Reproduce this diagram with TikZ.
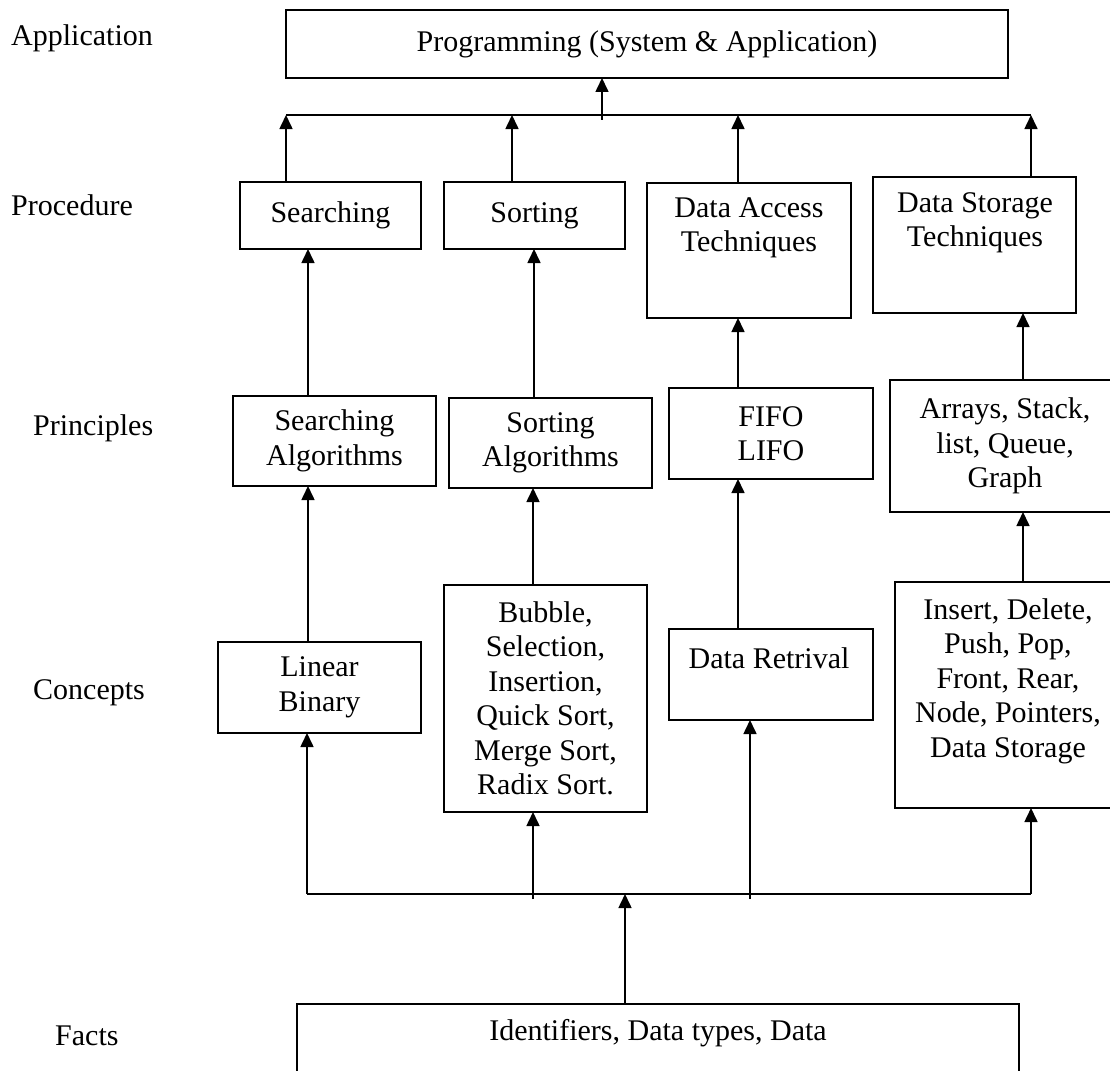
\documentclass[tikz,border=0pt]{standalone}
\usepackage{fontspec}
\setmainfont{Liberation Serif}
\usetikzlibrary{arrows.meta}
\begin{document}
\begin{tikzpicture}[x=1pt,y=-1pt,
  every node/.style={font=\fontsize{30}{34.5}\selectfont},
  box/.style={draw, line width=1.6pt, inner sep=0pt, outer sep=0pt, align=center},
  txt/.style={align=center, inner sep=0pt},
  lbl/.style={anchor=west, inner sep=0pt},
  conn/.style={line width=1.6pt},
  arr/.style={line width=1.6pt, -{Triangle[length=14pt,width=13pt]}}]
\useasboundingbox (0,0) rectangle (1110,1070);

% level labels
\node[lbl] (lApp) at (11,38) {Application};
\node[lbl] (lProc) at (11,205) {Procedure};
\node[lbl] (lPrin) at (33,428) {Principles};
\node[lbl] (lConc) at (33,693) {Concepts};
\node[lbl] (lFact) at (55,1036) {Facts};

% application
\node[box, minimum width=722pt, minimum height=68pt] (top) at (647,44) {Programming (System \& Application)};

% procedure
\node[box, minimum width=181pt, minimum height=67pt] (srch) at (330.5,215.5) {Searching};
\node[box, minimum width=181pt, minimum height=67pt] (sort) at (534.5,215.5) {Sorting};
\node[box, minimum width=204pt, minimum height=135pt] (dacc) at (749,250.5) {};
\node[txt] (daccT) at (749,228) {Data Access\\Techniques};
\node[box, minimum width=203pt, minimum height=136pt] (dsto) at (974.5,245) {};
\node[txt] (dstoT) at (975,223) {Data Storage\\Techniques};

% principles
\node[box, minimum width=203pt, minimum height=90pt] (salg) at (334.5,441) {Searching\\Algorithms};
\node[box, minimum width=203pt, minimum height=90pt] (soalg) at (550.5,443) {Sorting\\Algorithms};
\node[box, minimum width=204pt, minimum height=91pt] (fifo) at (771,433.5) {FIFO\\LIFO};
\node[box, minimum width=230pt, minimum height=132pt] (arrs) at (1005,446) {Arrays, Stack,\\list, Queue,\\Graph};

% concepts
\node[box, minimum width=203pt, minimum height=91pt] (lin) at (319.5,687.5) {Linear\\Binary};
\node[box, minimum width=203pt, minimum height=227pt] (bub) at (545.5,698.5) {Bubble,\\Selection,\\Insertion,\\Quick Sort,\\Merge Sort,\\Radix Sort.};
\node[box, minimum width=204pt, minimum height=91pt] (dret) at (771,674.5) {};
\node[txt] (dretT) at (769,658) {Data Retrival};
\node[box, minimum width=226pt, minimum height=226pt] (ins) at (1008,695) {};
\node[txt] (insT) at (1008,681) {Insert, Delete,\\Push, Pop,\\Front, Rear,\\Node, Pointers,\\Data Storage};

% facts
\node[box, minimum width=722pt, minimum height=90pt] (facts) at (658,1049) {};
\node[txt] (factsT) at (658,1033) {Identifiers, Data types, Data};

% upper bus
\coordinate (tl) at (286,115);
\coordinate (t2) at (512,115);
\coordinate (t3) at (738,115);
\coordinate (tr) at (1031,115);
\coordinate (tm) at (602,120);
\draw[conn] (tl) -- (tr);
\draw[arr] (tm) -- (top.south -| tm);
\draw[arr] (srch.north -| tl) -- (tl);
\draw[arr] (sort.north -| t2) -- (t2);
\draw[arr] (dacc.north -| t3) -- (t3);
\draw[arr] (dsto.north -| tr) -- (tr);

% principles -> procedure
\draw[arr] (salg.north -| 308,0) -- (srch.south -| 308,0);
\draw[arr] (soalg.north -| 534,0) -- (sort.south -| 534,0);
\draw[arr] (fifo.north -| 738,0) -- (dacc.south -| 738,0);
\draw[arr] (arrs.north -| 1023,0) -- (dsto.south -| 1023,0);

% concepts -> principles
\draw[arr] (lin.north -| 308,0) -- (salg.south -| 308,0);
\draw[arr] (bub.north -| 533,0) -- (soalg.south -| 533,0);
\draw[arr] (dret.north -| 738,0) -- (fifo.south -| 738,0);
\draw[arr] (ins.north -| 1023,0) -- (arrs.south -| 1023,0);

% lower bus
\coordinate (bl) at (307,894);
\coordinate (b2) at (533,899);
\coordinate (b3) at (750,899);
\coordinate (br) at (1031,894);
\coordinate (bm) at (625,894);
\draw[conn] (bl) -- (br);
\draw[arr] (bl) -- (lin.south -| bl);
\draw[arr] (b2) -- (bub.south -| b2);
\draw[arr] (b3) -- (dret.south -| b3);
\draw[arr] (br) -- (ins.south -| br);
\draw[arr] (facts.north -| bm) -- (bm);
\end{tikzpicture}
\end{document}
